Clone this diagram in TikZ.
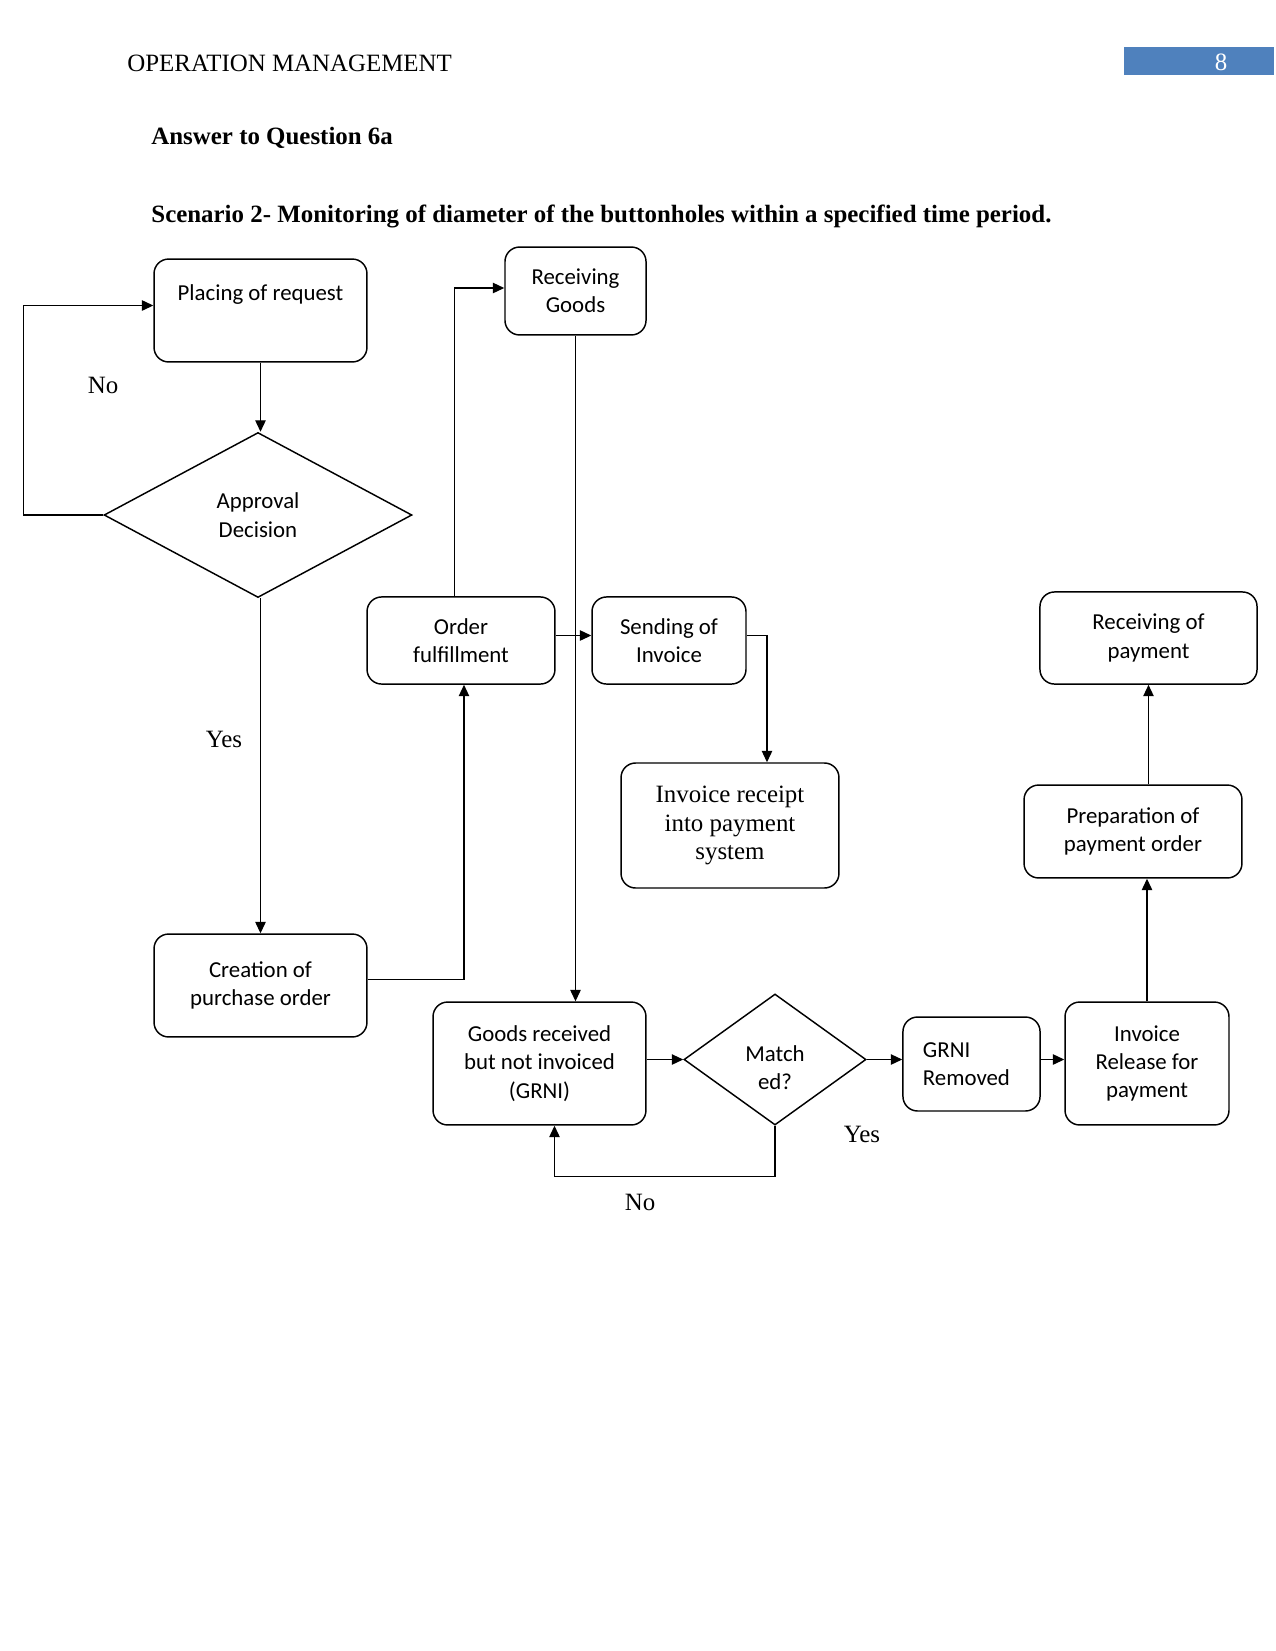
\documentclass[tikz,border=0pt]{standalone}
\usepackage{fontspec}
\setmainfont{Liberation Serif}
\newfontfamily\boxfont{Carlito}
\usetikzlibrary{arrows.meta,positioning,calc,shapes.geometric}
\definecolor{headblue}{RGB}{79,129,189}

\begin{document}
\begin{tikzpicture}[
  x=0.48bp, y=-0.48bp,
  box/.style={draw, rounded corners=7bp, align=center, line width=0.7bp, inner sep=3bp, font=\boxfont\fontsize{11}{13.7}\selectfont},
  dec/.style={draw, diamond, line width=0.7bp, inner sep=0pt},
  arr/.style={-{Triangle[length=5.5bp,width=5bp]}, line width=0.65bp},
  lbl/.style={font=\fontsize{12}{14}\selectfont},
  head/.style={anchor=base west, inner sep=0pt, font=\bfseries\fontsize{12}{14}\selectfont}
]
\useasboundingbox (0,0) rectangle (1275,1651);
\fill[headblue] (1124,47) rectangle (1274,75);
\node[lbl, anchor=base west, inner sep=0pt] (runhead) at (127,71) {OPERATION MANAGEMENT};
\node[lbl, text=white] (pagenum) at (1221,62) {8};
\node[head] (answer) at (151,144) {Answer to Question 6a};
\node[head] (scenario) at (151,222) {Scenario 2- Monitoring of diameter of the buttonholes within a specified time period.};

\node[box, minimum width=102.2bp, text height=16.7bp, text depth=26.7bp] (placing) at (260.5,310.5) {Placing of request};
\node[dec, minimum width=147.8bp, minimum height=79.2bp, label={[align=center, font=\boxfont\fontsize{11}{13.7}\selectfont]center:Approval\\Decision}] (approval) at (258,515) {};
\node[box, minimum width=67.7bp, minimum height=42.2bp] (recgoods) at (575.5,291) {Receiving\\Goods};
\node[box, minimum width=90.2bp, minimum height=41.8bp] (order) at (461,640.5) {Order\\fulfillment};
\node[box, minimum width=73.9bp, minimum height=41.8bp] (sendinv) at (669,640.5) {Sending of\\Invoice};
\node[box, minimum width=104.2bp, minimum height=44.2bp] (recpay) at (1148.5,638) {Receiving of\\payment};
\node[box, minimum width=104.6bp, minimum height=60bp, font=\fontsize{12}{13.8}\selectfont] (invrec) at (730,825.5) {Invoice receipt\\into payment\\system};
\node[box, minimum width=104.6bp, minimum height=44.6bp] (prep) at (1133,831.5) {Preparation of\\payment order};
\node[box, minimum width=102.2bp, minimum height=49.4bp] (creation) at (260.5,985.5) {Creation of\\purchase order};
\node[box, minimum width=102.2bp, minimum height=59bp] (goodsrec) at (539.5,1063.5) {Goods received\\but not invoiced\\(GRNI)};
\node[dec, minimum width=87.4bp, minimum height=62.9bp, label={[align=center, yshift=-4bp, font=\boxfont\fontsize{11}{13.7}\selectfont]center:Match\\ed?}] (match) at (775,1059.5) {};
\node[box, minimum width=65.8bp, minimum height=45.1bp, align=left, text width=46.6bp] (grnirem) at (971.5,1064) {GRNI\\Removed};
\node[box, minimum width=78.7bp, minimum height=59bp] (invrel) at (1147,1063.5) {Invoice\\Release for\\payment};

\node[lbl] (noleft) at (103,385) {No};
\node[lbl] (yesleft) at (224,739) {Yes};
\node[lbl] (yesmatch) at (862,1134) {Yes};
\node[lbl] (nomatch) at (640,1202) {No};

\draw[arr] (placing.south) -- (placing.south |- approval.north);
\draw[arr] (approval.west) -- ++(-80,0) |- ($(placing.west)+(0,-5)$);
\draw[arr] (placing.south |- approval.south) -- (placing.south |- creation.north);
\draw[arr] ($(creation.east)+(0,-6)$) -| ($(order.south)+(3,0)$);
\draw[arr] ([xshift=-3bp]order.north) |- ($(recgoods.west)+(0,-3)$);
\draw[arr] (recgoods.south) -- (recgoods.south |- goodsrec.north);
\draw[arr] ($(order.east)+(0,-5)$) -- ($(sendinv.west)+(0,-5)$);
\draw[arr] ($(sendinv.east)+(0,-5)$) -| ($(invrec.north)+(37,0)$);
\draw[arr] (goodsrec.east |- match.west) -- (match.west);
\draw[arr] (match.east) -- (grnirem.west |- match.east);
\draw[arr] (grnirem.east |- match.east) -- (invrel.west |- match.east);
\draw[arr] (match.south) -- ++(0,51) -| ($(goodsrec.south)+(15,0)$);
\draw[arr] (invrel.north) -- (invrel.north |- prep.south);
\draw[arr] (recpay.south |- prep.north) -- (recpay.south);
\end{tikzpicture}
\end{document}
